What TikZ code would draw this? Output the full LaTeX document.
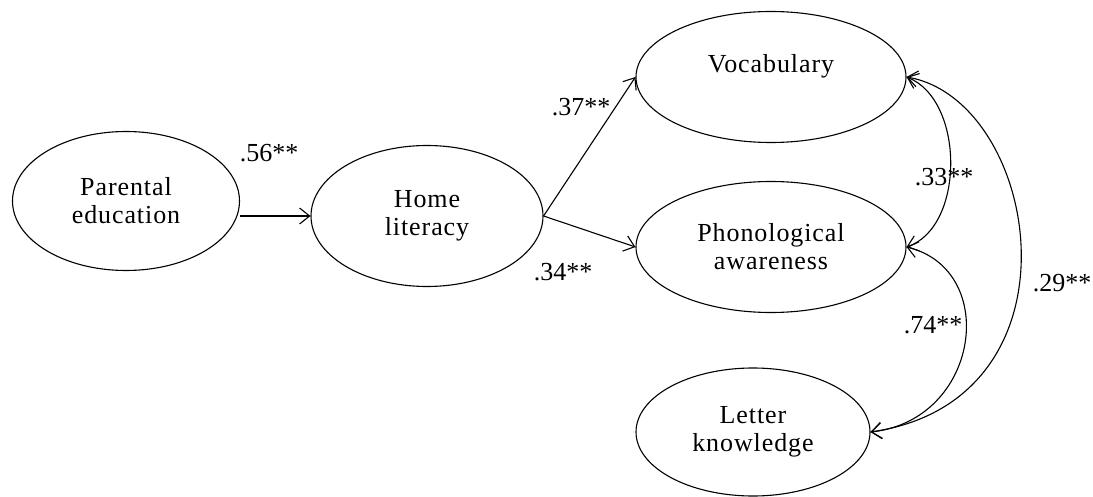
\documentclass[tikz,border=0pt]{standalone}
\usepackage{fontspec}
\setmainfont{Liberation Serif}
\newfontfamily\spacedserif[LetterSpace=3.5]{Liberation Serif}
\usetikzlibrary{shapes.geometric,arrows.meta}
\begin{document}
\begin{tikzpicture}[x=1pt,y=-1pt,
  var/.style={draw,ellipse,inner sep=0pt,line width=1.1pt,align=center,
    font=\spacedserif\fontsize{26}{28}\selectfont},
  lab/.style={inner sep=0pt,font=\fontsize{26}{28}\selectfont},
  arr/.style={line width=1.1pt,-{Straight Barb[length=10pt,width=16pt,line width=1.1pt]}},
  cov/.style={line width=1.1pt,{Straight Barb[length=10pt,width=16pt,line width=1.1pt]}-{Straight Barb[length=10pt,width=16pt,line width=1.1pt]}}]
\useasboundingbox (0,0) rectangle (1093,497);
\node[var,minimum width=227pt,minimum height=139pt] (par) at (126,201) {Parental\\education};
\node[var,minimum width=232pt,minimum height=141pt] (home) at (427,216) {Home\\literacy};
\node[var,minimum width=270pt,minimum height=131pt] (voc) at (771,77) {Vocabulary\\\mbox{}};
\node[var,minimum width=270pt,minimum height=131pt] (pho) at (771,247) {Phonological\\awareness};
\node[var,minimum width=234pt,minimum height=128pt] (let) at (753,432) {Letter\\knowledge};
\draw[arr] (par.east |- home.west) -- (home.west);
\draw[arr] (home.east) -- (voc.west);
\draw[arr] (home.east) -- (pho.west);
\draw[cov] (voc.east) .. controls (965,100) and (965,227) .. (pho.east);
\draw[cov] (pho.east) .. controls (1000,270) and (980,420) .. (let.east);
\draw[cov] (voc.east) .. controls (1040,100) and (1090,400) .. (let.east);
\node[lab] (l56) at (269,153) {.56**};
\node[lab] (l37) at (581,107) {.37**};
\node[lab] (l34) at (563,272) {.34**};
\node[lab] (l33) at (944,177) {.33**};
\node[lab] (l74) at (933,325) {.74**};
\node[lab] (l29) at (1062,283) {.29**};
\end{tikzpicture}
\end{document}
